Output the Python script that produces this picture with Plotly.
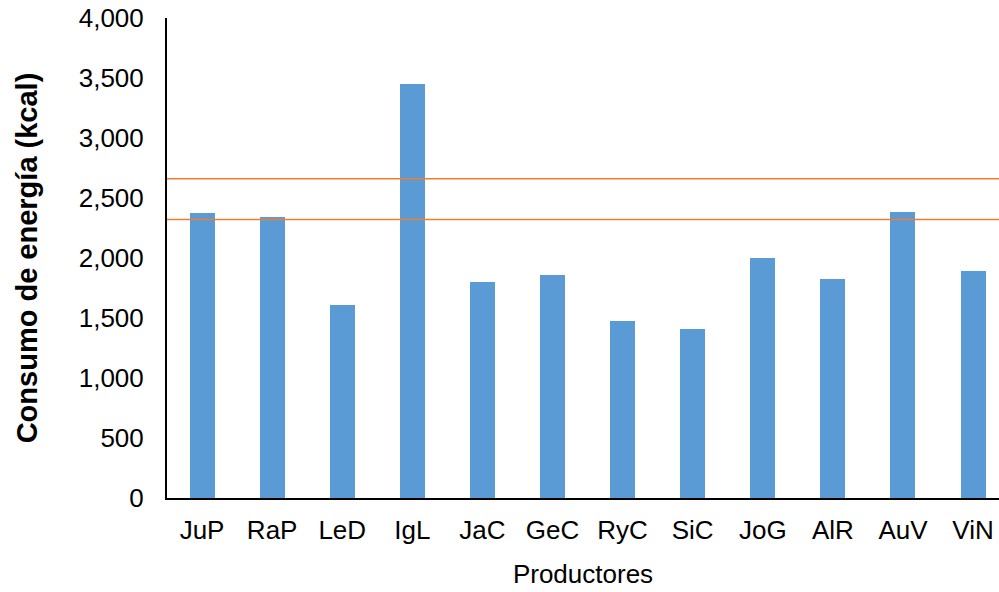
import plotly.graph_objects as go

categories = ["JuP", "RaP", "LeD", "IgL", "JaC", "GeC", "RyC", "SiC", "JoG", "AlR", "AuV", "ViN"]
consumo = [2373, 2342, 1605, 3453, 1797, 1858, 1477, 1407, 2000, 1827, 2384, 1889]
referencias = [2660, 2321]
y_ticks = [0, 500, 1000, 1500, 2000, 2500, 3000, 3500, 4000]
y_tick_labels = ["0", "500", "1,000", "1,500", "2,000", "2,500", "3,000", "3,500", "4,000"]

BAR = "#5B9BD5"
ORANGE = "#ED7D31"
FONT = "Liberation Sans, Arial, sans-serif"

fig = go.Figure()
fig.add_trace(go.Bar(x=list(range(len(categories))), y=consumo, marker_color=BAR,
                     marker_line_width=0, width=0.357, showlegend=False))

x_end = 11.37
for r in referencias:
    fig.add_trace(go.Scatter(x=[-0.5, x_end], y=[r, r], mode="lines",
                             line=dict(color=ORANGE, width=1.6), showlegend=False,
                             hoverinfo="skip"))

fig.update_layout(
    width=999, height=592,
    margin=dict(l=167, r=0, t=18, b=94),
    paper_bgcolor="white", plot_bgcolor="white",
    font=dict(family=FONT, size=26, color="black"),
    bargap=0,
)
fig.update_xaxes(
    range=[-0.5, x_end], automargin=False,
    tickmode="array", tickvals=list(range(len(categories))), ticktext=categories,
    showline=True, linecolor="black", linewidth=2, showgrid=False, zeroline=False,
    ticks="", ticklabelstandoff=8, ticklabeloverflow="allow",
    title=dict(text="Productores", font=dict(size=26), standoff=21),
)
fig.update_yaxes(
    range=[0, 4000], automargin=False,
    tickmode="array", tickvals=y_ticks, ticktext=y_tick_labels,
    showline=True, linecolor="black", linewidth=2, showgrid=False, zeroline=False,
    ticks="", ticklabelstandoff=16, ticklabeloverflow="allow",
    title=dict(text="<b>Consumo de energía (kcal)</b>", font=dict(size=29), standoff=33),
)

fig.write_html("out.html", config={"displayModeBar": False},
               post_script="document.body.style.margin='0';document.body.style.overflow='hidden';")
